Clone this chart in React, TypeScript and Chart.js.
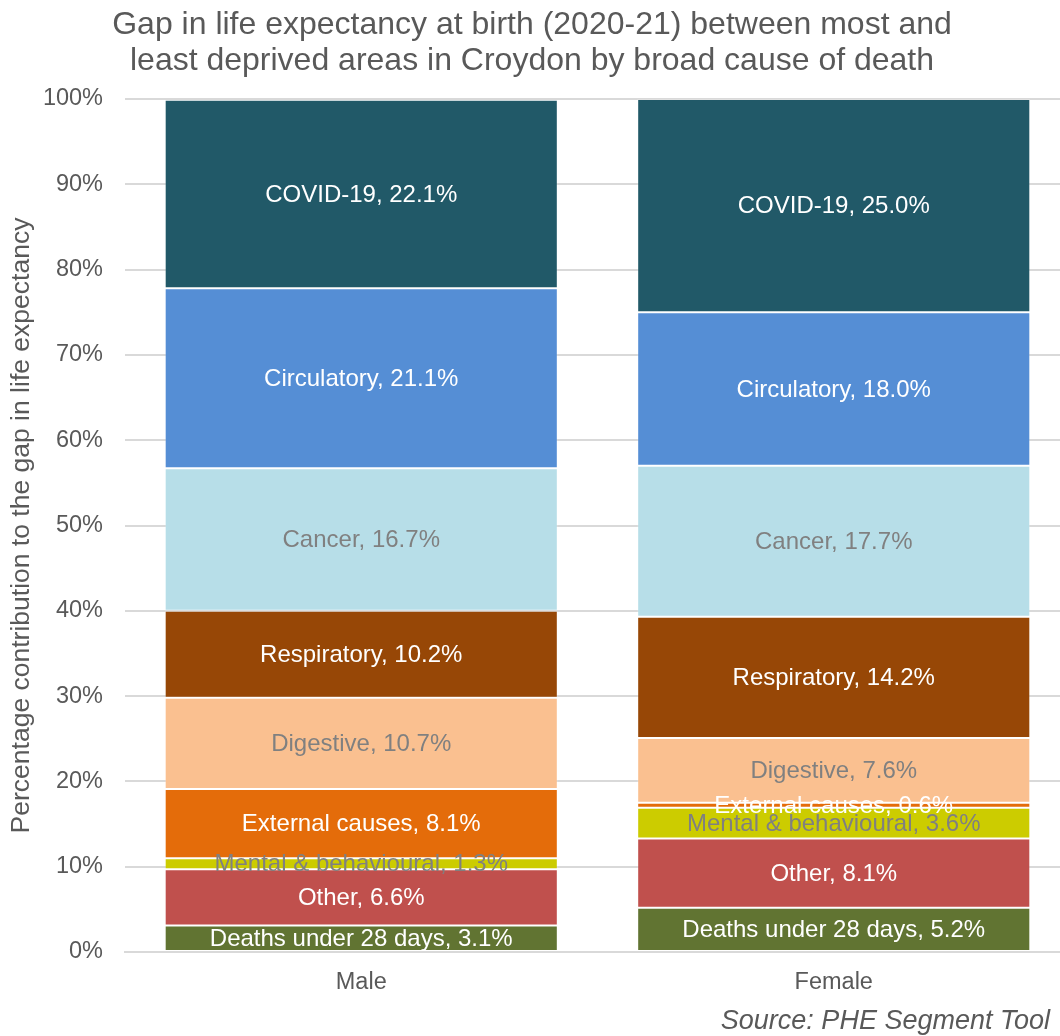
import React, { useEffect, useRef } from "react";
import { Chart, registerables } from "chart.js";

Chart.register(...registerables);

const categories = ["Male", "Female"];
const causes = [
  "Deaths under 28 days",
  "Other",
  "Mental & behavioural",
  "External causes",
  "Digestive",
  "Respiratory",
  "Cancer",
  "Circulatory",
  "COVID-19",
];
const maleValues = [3.1, 6.6, 1.3, 8.1, 10.7, 10.2, 16.7, 21.1, 22.1];
const femaleValues = [5.2, 8.1, 3.6, 0.6, 7.6, 14.2, 17.7, 18.0, 25.0];
const colors = [
  "#617432",
  "#C0504D",
  "#CCCC00",
  "#E46C0A",
  "#FAC090",
  "#974706",
  "#B7DEE8",
  "#558ED5",
  "#215968",
];
const labelColors = [
  "#FFFFFF",
  "#FFFFFF",
  "#808080",
  "#FFFFFF",
  "#808080",
  "#FFFFFF",
  "#808080",
  "#FFFFFF",
  "#FFFFFF",
];
const yTicks = [0, 10, 20, 30, 40, 50, 60, 70, 80, 90, 100];
const titleLines = [
  "Gap in life expectancy at birth (2020-21) between most and",
  "least deprived areas in Croydon by broad cause of death",
];
const yAxisTitle = "Percentage contribution to the gap in life expectancy";
const sourceText = "Source: PHE Segment Tool";

const FONT = "'Liberation Sans', Arial, sans-serif";

const labelPlugin = {
  id: "segLabels",
  afterDatasetsDraw(chart: any) {
    const ctx = chart.ctx;
    ctx.save();
    ctx.font = `24px ${FONT}`;
    ctx.textAlign = "center";
    ctx.textBaseline = "middle";
    chart.data.datasets.forEach((ds: any, di: number) => {
      const meta = chart.getDatasetMeta(di);
      meta.data.forEach((bar: any, i: number) => {
        const v = ds.data[i];
        const yMid = (bar.y + bar.base) / 2;
        ctx.fillStyle = labelColors[di];
        ctx.fillText(`${ds.label}, ${v.toFixed(1)}%`, bar.x, yMid + 1);
      });
    });
    ctx.restore();
  },
};

const textPlugin = {
  id: "extraText",
  afterDraw(chart: any) {
    const ctx = chart.ctx;
    ctx.save();
    ctx.fillStyle = "#595959";
    ctx.textAlign = "center";
    ctx.textBaseline = "middle";
    ctx.font = `32px ${FONT}`;
    ctx.fillText(titleLines[0], 532, 25);
    ctx.fillText(titleLines[1], 532, 61);
    ctx.font = `italic 27px ${FONT}`;
    ctx.textAlign = "right";
    ctx.fillText(sourceText, 1050, 1021);
    ctx.restore();
  },
};

export default function App() {
  const ref = useRef<HTMLCanvasElement | null>(null);
  useEffect(() => {
    if (!ref.current) return;
    const chart = new Chart(ref.current, {
      type: "bar",
      data: {
        labels: categories,
        datasets: causes.map((c, i) => ({
          label: c,
          data: [maleValues[i], femaleValues[i]],
          backgroundColor: colors[i],
          borderColor: "rgba(255,255,255,0.2)",
          borderWidth: 1,
          borderSkipped: false,
          categoryPercentage: 1,
          barPercentage: 0.832,
        })),
      },
      options: {
        animation: false,
        responsive: false,
        maintainAspectRatio: false,
        layout: { padding: { top: 99, left: 6, right: 0, bottom: 0 } },
        plugins: {
          legend: { display: false },
          title: { display: false },
          tooltip: { enabled: false },
        },
        scales: {
          x: {
            stacked: true,
            grid: { display: false, drawTicks: false },
            border: { display: true, color: "#D9D9D9", width: 2 },
            ticks: {
              color: "#595959",
              font: { family: FONT, size: 23.5 },
              padding: 16,
            },
            afterFit(scale: any) {
              scale.height = 84;
            },
          },
          y: {
            stacked: true,
            min: 0,
            max: 100,
            afterBuildTicks(scale: any) {
              scale.ticks = yTicks.map((v) => ({ value: v }));
            },
            grid: { color: "#D9D9D9", lineWidth: 2, drawTicks: false },
            border: { display: false },
            ticks: {
              color: "#595959",
              font: { family: FONT, size: 23.5 },
              padding: 22,
              callback: (v: any) => `${v}%`,
            },
            title: {
              display: true,
              text: yAxisTitle,
              color: "#595959",
              font: { family: FONT, size: 26.5 },
              padding: { top: 0, bottom: 0 },
            },
            afterFit(scale: any) {
              scale.width = 119;
            },
          },
        },
      },
      plugins: [labelPlugin, textPlugin],
    });
    return () => chart.destroy();
  }, []);
  return (
    <div
      style={{
        position: "fixed",
        left: 0,
        top: 0,
        width: 1060,
        height: 1036,
        overflow: "hidden",
        background: "#fff",
      }}
    >
      <canvas ref={ref} width={1070} height={1036} style={{ display: "block" }} />
    </div>
  );
}
